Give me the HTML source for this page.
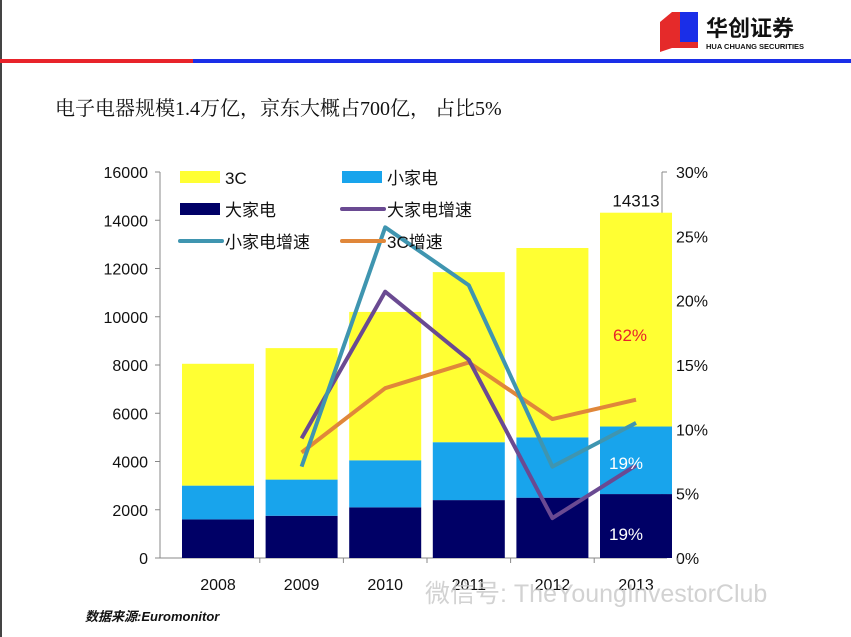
<!DOCTYPE html>
<html><head><meta charset="utf-8"><style>
body{margin:0;width:851px;height:637px;overflow:hidden;background:#fff;font-family:"Liberation Sans","Noto Sans CJK SC",sans-serif}
</style></head><body>
<svg id="c" width="851" height="637" xmlns="http://www.w3.org/2000/svg" style="position:absolute;left:0;top:0">
<rect x="0" y="0" width="2" height="637" fill="#444"/>
<rect x="0" y="59" width="193" height="4" fill="#e8232a"/>
<rect x="193" y="59" width="658" height="4" fill="#1a2ee8"/>
<g>
<polygon points="660,22 672,12 698,12 698,48 672,48 660,52" fill="#e52a2a"/>
<rect x="680" y="12" width="18" height="30" fill="#1a2ee8"/>
<text x="706" y="36" font-size="22" font-weight="bold" fill="#111" font-family="'Noto Sans CJK SC',sans-serif">华创证券</text>
<text x="706" y="49" font-size="7.5" font-weight="bold" fill="#111">HUA CHUANG SECURITIES</text>
</g>
<text x="55" y="115" font-size="20" fill="#111" font-family="'Liberation Serif','Noto Serif CJK SC',serif">电子电器规模1.4万亿，京东大概占700亿， 占比5%</text>
<g id="plot"></g>
<text x="85" y="621" font-size="13" font-style="italic" font-weight="bold" fill="#111">数据来源:Euromonitor</text>
<text x="425" y="602" font-size="25" fill="#c8c8c8" opacity="0.8">微信号: TheYoungInvestorClub</text>
</svg>
<script>
const years=['2008','2009','2010','2011','2012','2013'];
const bigApp=[1600,1750,2100,2400,2500,2650];
const smallApp=[1400,1500,1950,2400,2500,2800];
const c3=[5050,5450,6150,7050,7850,8863];
const bigGrowth=[null,9.3,20.7,15.4,3.1,7.2];
const smallGrowth=[null,7.1,25.7,21.2,7.1,10.5];
const c3Growth=[null,8.2,13.2,15.2,10.8,12.3];
const leftTicks=[0,2000,4000,6000,8000,10000,12000,14000,16000];
const rightTicks=[0,5,10,15,20,25,30];
const NS='http://www.w3.org/2000/svg',g=document.getElementById('plot');
const X0=160,X1=662,Y0=558,Y1=172;
const yL=v=>Y0-(v/16000)*(Y0-Y1), yR=v=>Y0-(v/30)*(Y0-Y1);
const xC=i=>218+i*83.6;
function el(t,a,txt){const e=document.createElementNS(NS,t);for(const k in a)e.setAttribute(k,a[k]);if(txt!=null)e.textContent=txt;g.appendChild(e);return e;}
let e;
e=el('line',{x1:X0,y1:Y1,x2:X0,y2:Y0,stroke:'#888'});


e=el('line',{x1:X1,y1:Y1,x2:X1,y2:Y0,stroke:'#888'});


e=el('line',{x1:X0,y1:Y0,x2:X1,y2:Y0,stroke:'#888'});


leftTicks.forEach(t=>{el('line',{x1:X0-5,x2:X0,y1:yL(t),y2:yL(t),stroke:'#888'});
e=el('text',{x:X0-12,y:yL(t)+6,'font-size':16,'text-anchor':'end',fill:'#111'},String(t));

});
rightTicks.forEach(t=>{el('line',{x1:X1,x2:X1+5,y1:yR(t),y2:yR(t),stroke:'#888'});
e=el('text',{x:X1+14,y:yR(t)+6,'font-size':16,fill:'#111'},t+'%');

});
years.forEach((y,i)=>{const x=xC(i),w=72;
el('line',{x1:x+41.8,x2:x+41.8,y1:Y0,y2:Y0+5,stroke:'#888'});
let a=bigApp[i],b=a+smallApp[i],c=b+c3[i];
e=el('rect',{x:x-w/2,y:yL(a),width:w,height:Y0-yL(a),fill:'#000066'});


e=el('rect',{x:x-w/2,y:yL(b),width:w,height:yL(a)-yL(b),fill:'#18a4ec'});


e=el('rect',{x:x-w/2,y:yL(c),width:w,height:yL(b)-yL(c),fill:'#ffff33'});


e=el('text',{x:x,y:590,'font-size':16,'text-anchor':'middle',fill:'#111'},y);

});
function line(arr,col,name){const pts=[];arr.forEach((v,i)=>{if(v!=null)pts.push(xC(i)+','+yR(v));});
e=el('polyline',{points:pts.join(' '),fill:'none',stroke:col,'stroke-width':4,'stroke-linejoin':'round'});

}
line(c3Growth,'#e0873a','line-3c-growth');
line(bigGrowth,'#6a4a92','line-big-appliance-growth');
line(smallGrowth,'#3f95b0','line-small-appliance-growth');
const tot=bigApp[5]+smallApp[5]+c3[5];
e=el('text',{x:xC(5),y:yL(tot)-6,'font-size':17,'text-anchor':'middle',fill:'#111'},String(tot));


e=el('text',{x:xC(5)-6,y:341,'font-size':17,'text-anchor':'middle',fill:'#e8232a'},'62%');


e=el('text',{x:xC(5)-10,y:469,'font-size':17,'text-anchor':'middle',fill:'#fff'},'19%');


e=el('text',{x:xC(5)-10,y:540,'font-size':17,'text-anchor':'middle',fill:'#fff'},'19%');


const leg=[['3C','#ffff33','rect',180,177],['小家电','#18a4ec','rect',342,177],['大家电','#000066','rect',180,209],['大家电增速','#6a4a92','line',342,209],['小家电增速','#3f95b0','line',180,241],['3C增速','#e0873a','line',342,241]];
leg.forEach(l=>{if(l[2]=='rect')el('rect',{x:l[3],y:l[4]-6,width:40,height:12,fill:l[1]});
else el('line',{x1:l[3],x2:l[3]+42,y1:l[4],y2:l[4],stroke:l[1],'stroke-width':4,'stroke-linecap':'round'});
e=el('text',{x:l[3]+45,y:l[4]+7,'font-size':17,fill:'#111'},l[0]);

});
</script>
</body></html>
